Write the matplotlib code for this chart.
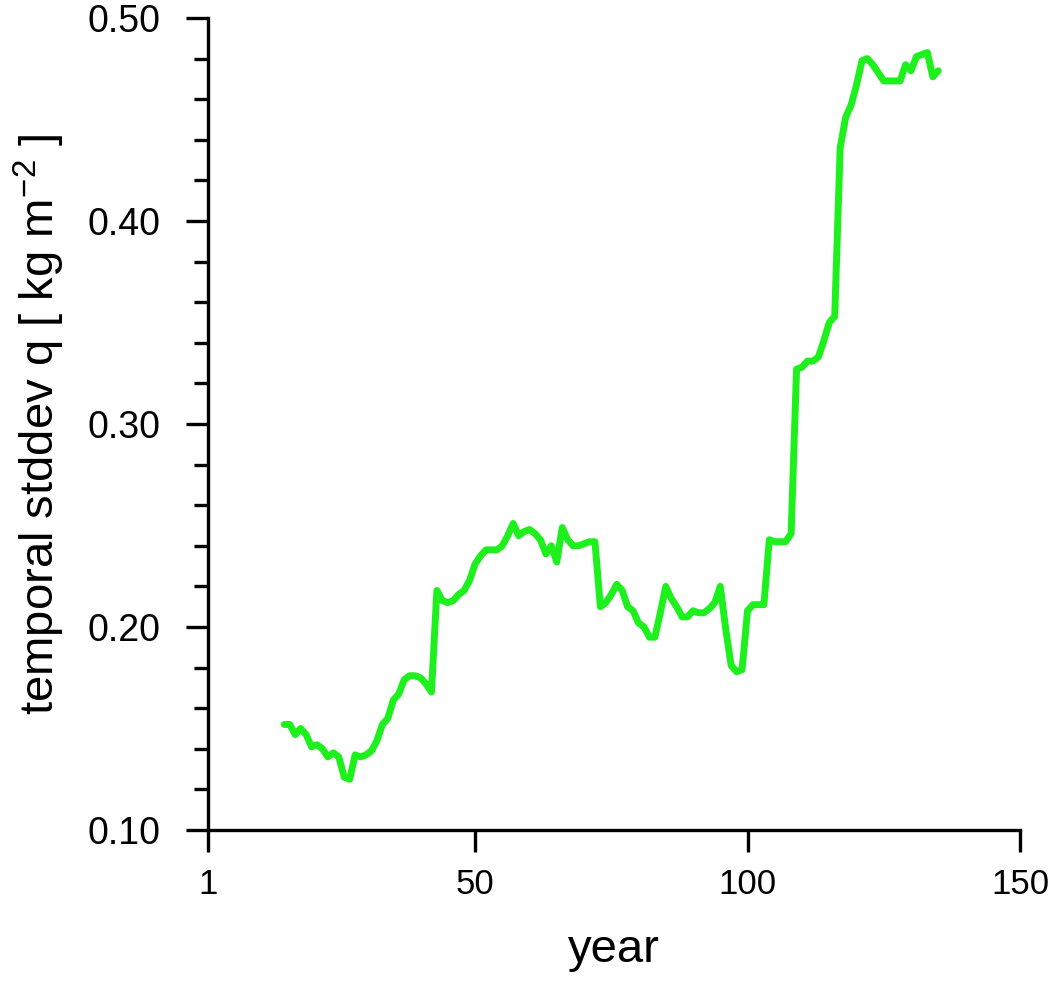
import numpy as np
import matplotlib
matplotlib.use("Agg")
import matplotlib.pyplot as plt
from matplotlib.ticker import FixedLocator, MultipleLocator

plt.rcParams['font.family'] = ['Liberation Sans', 'DejaVu Sans']
plt.rcParams['mathtext.fontset'] = 'custom'
plt.rcParams['mathtext.rm'] = 'Liberation Sans'
plt.rcParams['mathtext.it'] = 'Liberation Sans'

# running temporal standard deviation of q, one value per year
years = np.arange(15, 136)
stddev_q = [
    0.152, 0.152, 0.147, 0.150, 0.147, 0.141, 0.142, 0.140, 0.136, 0.138,   # 15-24
    0.136, 0.126, 0.125, 0.137, 0.136, 0.137, 0.139, 0.144, 0.152, 0.155,   # 25-34
    0.164, 0.167, 0.174, 0.176, 0.176, 0.175, 0.172, 0.168, 0.218, 0.213,   # 35-44
    0.212, 0.213, 0.216, 0.218, 0.223, 0.231, 0.235, 0.238, 0.238, 0.238,   # 45-54
    0.240, 0.245, 0.251, 0.245, 0.247, 0.248, 0.246, 0.243, 0.236, 0.240,   # 55-64
    0.232, 0.249, 0.243, 0.240, 0.240, 0.241, 0.242, 0.242, 0.210, 0.212,   # 65-74
    0.216, 0.221, 0.218, 0.210, 0.208, 0.202, 0.200, 0.195, 0.195, 0.207,   # 75-84
    0.220, 0.214, 0.210, 0.205, 0.205, 0.208, 0.207, 0.207, 0.209, 0.212,   # 85-94
    0.220, 0.199, 0.181, 0.178, 0.179, 0.208, 0.211, 0.211, 0.211, 0.243,   # 95-104
    0.242, 0.242, 0.242, 0.246, 0.327, 0.328, 0.331, 0.331, 0.333, 0.341,   # 105-114
    0.350, 0.353, 0.436, 0.451, 0.457, 0.467, 0.479, 0.480, 0.477, 0.473,   # 115-124
    0.469, 0.469, 0.469, 0.469, 0.477, 0.474, 0.481, 0.482, 0.483, 0.471,   # 125-134
    0.474,                                                                  # 135
]

x_ticks = [1, 50, 100, 150]
x_tick_labels = ["1", "50", "100", "150"]
y_ticks = [0.10, 0.20, 0.30, 0.40, 0.50]
y_tick_labels = ["0.10", "0.20", "0.30", "0.40", "0.50"]

fig = plt.figure(figsize=(10.53, 9.84), dpi=100)
ax = fig.add_axes([208 / 1053, 154 / 984, 812 / 1053, 812 / 984])

ax.plot(years, stddev_q, color='#1ef01e', linewidth=5.0,
        solid_joinstyle='round', solid_capstyle='round', clip_on=False)

ax.set_xlim(1, 150)
ax.set_ylim(0.10, 0.50)

for side in ('top', 'right'):
    ax.spines[side].set_visible(False)
for side in ('left', 'bottom'):
    ax.spines[side].set_linewidth(2.4)
    ax.spines[side].set_capstyle('projecting')

ax.xaxis.set_major_locator(FixedLocator(x_ticks))
ax.set_xticklabels(x_tick_labels)
ax.yaxis.set_major_locator(FixedLocator(y_ticks))
ax.set_yticklabels(y_tick_labels)
ax.yaxis.set_minor_locator(MultipleLocator(0.02))

ax.tick_params(axis='x', which='major', direction='out', length=16, width=2.4,
               labelsize=25, pad=11)
ax.tick_params(axis='y', which='major', direction='out', length=16, width=2.4,
               labelsize=27, pad=18)
ax.tick_params(axis='y', which='minor', direction='out', length=10, width=2.4)

fig.text(614 / 1053, 1 - 962 / 984, "year", fontsize=34,
         ha='center', va='baseline')
fig.text(39 / 1053, 1 - 424 / 984, r"temporal stddev q [ kg m$^{-2}$ ]",
         fontsize=34, rotation=90, ha='center', va='center')

fig.savefig("out.png", dpi=100, facecolor='white')
